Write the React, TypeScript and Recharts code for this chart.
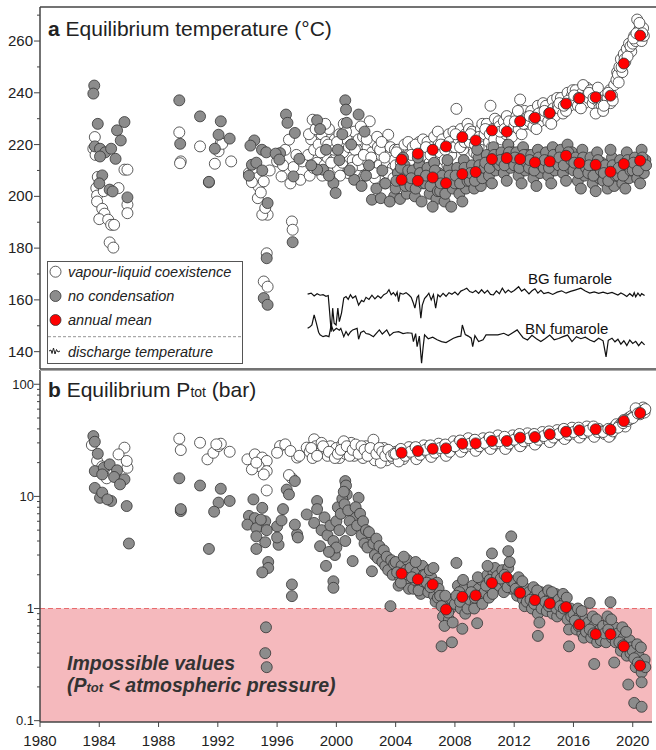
import React from 'react';
import { ComposedChart, Scatter, Line, XAxis, YAxis, ReferenceArea, ReferenceLine } from 'recharts';

const FONT = '"Liberation Sans", Arial, sans-serif';

// axis ticks
const yearTicks = [1980, 1984, 1988, 1992, 1996, 2000, 2004, 2008, 2012, 2016, 2020];
const tempTicks = [140, 150, 160, 170, 180, 190, 200, 210, 220, 230, 240, 250, 260, 270];
const tempLabels = [140, 160, 180, 200, 220, 240, 260];
const pressTicks = [0.1, 0.2, 0.3, 0.4, 0.5, 0.6, 0.7, 0.8, 0.9, 1, 2, 3, 4, 5, 6, 7, 8, 9, 10, 20, 30, 40, 50, 60, 70, 80, 90, 100];
const pressLabels = [0.1, 1, 10, 100];

// annual means
const meanYears = [2004.4, 2005.5, 2006.5, 2007.4, 2008.5, 2009.4, 2010.5, 2011.5, 2012.4, 2013.4, 2014.4, 2015.5, 2016.4, 2017.5, 2018.5, 2019.4, 2020.5];
const meanTempVL = [214.2, 216.5, 218, 219.3, 222.9, 221.6, 225.5, 225, 229, 230.4, 232.2, 235.8, 237.9, 238.3, 238.9, 251.3, 262.1];
const meanTempNC = [206.4, 206, 207.3, 205.1, 208.6, 209.4, 214.4, 214.8, 214.4, 213.1, 213.5, 215.7, 212.9, 212.2, 209.5, 212.5, 213.8];
const meanPressVL = [24.5, 25.4, 26.6, 26.8, 29.5, 29.7, 31.2, 31.2, 33.4, 33.8, 35.8, 37.7, 38.8, 39.7, 39.3, 47, 55.4];
const meanPressNC = [2.05, 1.82, 1.64, 0.98, 1.27, 1.31, 1.69, 1.9, 1.38, 1.19, 1.11, 1.03, 0.72, 0.59, 0.59, 0.46, 0.31];

// equilibrium temperature, vapour-liquid coexistence [year, °C]
const tempVL: [number, number][] = [
  [1983.7,222.9],[1983.6,218.4],[1983.75,216],[1983.9,207.5],[1983.8,203.2],[1983.85,200.3],[1983.85,198],[1984.2,195.2],[1984.35,193.3],[1984.0,191.2],[1984.6,191],[1984.8,189],[1985.0,189],[1984.7,182.2],[1984.95,180.2],[1984.3,202],[1985.3,203.2],[1985.7,210.3],[1985.9,210.3],[1985.9,196.8],[1985.9,193.5],
  [1989.4,224.7],[1989.5,213.5],[1989.45,212.8],[1990.8,219.3],[1991.4,205.4],[1991.8,212.6],[1992.05,217.4],[1992.2,220.6],[1992.3,220.3],[1992.9,213.5],
  [1994.1,209],[1994.6,207.7],[1994.75,203.8],[1995.1,205.8],[1994.7,199.3],[1995.36,192.9],[1995.0,192.9],[1995.3,178],[1995.1,167.1],[1995.36,165.1],[1997.0,190.3],[1997.05,187.1],[1996.0,213.5],[1996.55,218],[1996.8,221.9],[1997.1,211.3],[1997.57,206.4],[1997.7,213.5],[1996.3,207.7],[1994.4,211],[1994.9,201.5],[1995.2,195.5],[1994.3,205.5],[1996.4,212],[1997.3,216],[1996.9,205],[1995.5,210],
  [1998.1,216],[1998.3,222],[1998.4,229.6],[1998.5,218],[1998.7,213],[1998.8,220],[1998.9,210],[1998.2,208],
  [1999.0,224],[1999.1,217],[1999.2,212],[1999.3,221],[1999.4,215],[1999.5,226],[1999.6,209],[1999.7,219],[1999.8,214],[1999.9,222],
  [2000.0,216],[2000.1,211],[2000.2,224],[2000.3,219],[2000.4,213],[2000.5,228],[2000.6,217],[2000.7,222],[2000.8,209],[2000.9,215],
  [2001.0,220],[2001.1,214],[2001.2,225],[2001.3,210],[2001.4,218],[2001.5,222],[2001.6,212],[2001.7,216],[2001.8,223],[2001.9,208],
  [2002.0,214],[2002.1,219],[2002.25,229],[2002.3,211],[2002.4,217],[2002.5,221],[2002.6,207],[2002.7,215],[2002.8,219],[2002.9,212],
  [2003.0,216],[2003.1,210],[2003.2,220],[2003.3,205],[2003.5,223.8],[2003.4,213],[2003.6,208],[2003.7,217],[2003.8,211],[2003.9,214],
  [1998.15,224],[1998.45,211],[1998.6,226],[1998.95,217],[1999.05,208],[1999.25,228],[1999.45,220],[1999.65,213],[1999.85,218],[2000.05,221],[2000.25,208],[2000.45,217],[2000.65,225],[2000.85,219],[2001.05,211],
  [2001.25,218],[2001.45,214],[2001.65,227],[2001.85,216],[2002.05,222],[2002.35,215],[2002.55,209],[2002.75,223],[2002.95,218],[2003.05,221],[2003.25,215],[2003.45,209],[2003.65,219],[2003.85,207],[2003.95,218],
  [2004.0,212],[2004.15,218],[2004.3,209],[2004.45,215],[2004.6,220],[2004.75,211],[2004.9,216],[2004.2,206],[2004.05,217],[2004.35,213],[2004.65,208],[2004.85,221],
  [2005.0,213],[2005.15,219],[2005.3,210],[2005.45,217],[2005.6,221],[2005.75,214],[2005.9,218],[2005.5,211],[2005.05,216],[2005.35,220],[2005.65,212],[2005.85,222],
  [2006.0,216],[2006.15,221],[2006.3,213],[2006.45,219],[2006.6,223],[2006.75,215],[2006.9,220],[2006.5,212],[2006.05,219],[2006.35,216],[2006.65,218],[2006.85,225],
  [2007.0,217],[2007.15,222],[2007.3,214],[2007.45,220],[2007.6,224],[2007.75,216],[2007.9,225],[2007.5,212],[2007.05,220],[2007.35,218],[2007.65,221],[2007.85,219],
  [2008.0,219],[2008.1,233.8],[2008.25,222],[2008.4,226],[2008.55,218],[2008.7,224],[2008.85,228],[2008.5,220],[2008.05,224],[2008.35,219],[2008.65,221],[2008.95,226],
  [2009.0,221],[2009.15,225],[2009.3,217],[2009.45,223],[2009.6,219],[2009.75,226],[2009.9,222],[2009.5,216],[2009.05,224],[2009.35,220],[2009.65,223],[2009.85,228],
  [2010.0,224],[2010.15,228],[2010.3,221],[2010.4,235],[2010.55,226],[2010.7,230],[2010.85,223],[2010.5,219],[2010.05,226],[2010.35,224],[2010.65,222],[2010.95,229],
  [2011.0,227],[2011.15,222],[2011.3,229],[2011.45,224],[2011.6,220],[2011.75,228],[2011.9,226],[2011.5,231],[2011.05,225],[2011.35,226],[2011.65,229],[2011.85,223],
  [2012.0,227],[2012.15,231],[2012.3,226],[2012.4,237.4],[2012.55,230],[2012.7,233],[2012.85,228],[2012.5,224],[2012.05,229],[2012.25,233],[2012.65,228],[2012.95,231],
  [2013.0,229],[2013.15,233],[2013.3,227],[2013.45,231],[2013.6,235],[2013.75,229],[2013.9,233],[2013.5,226],[2013.05,231],[2013.35,230],[2013.65,232],[2013.95,236],
  [2014.0,231],[2014.15,235],[2014.3,229],[2014.45,233],[2014.6,237],[2014.75,231],[2014.9,238],[2014.5,228],[2014.05,233],[2014.35,232],[2014.65,234],[2014.95,235],
  [2015.0,234],[2015.15,238],[2015.3,232],[2015.45,236],[2015.6,240],[2015.75,235],[2015.9,239],[2015.5,233],[2015.05,236],[2015.35,235],[2015.65,237],[2015.95,241],
  [2016.0,237],[2016.15,241],[2016.3,235],[2016.45,239],[2016.6,240],[2016.75,236],[2016.9,242],[2016.5,234],[2016.05,239],[2016.35,238],[2016.65,243],[2016.95,239],
  [2017.0,238],[2017.15,241],[2017.3,236],[2017.45,240],[2017.6,237],[2017.75,234],[2017.9,235],[2017.5,232],[2017.05,240],[2017.35,238],[2017.65,242],[2017.95,237],
  [2018.0,233],[2018.15,236],[2018.3,238],[2018.45,241],[2018.6,239],[2018.75,243],[2018.9,245],[2018.5,236],[2018.05,235],[2018.35,240],[2018.65,237],[2018.95,248],
  [2019.0,247],[2019.1,250],[2019.2,253],[2019.3,248],[2019.4,255],[2019.5,252],[2019.6,257],[2019.75,259],[2019.9,256],[2019.05,244],[2019.25,250],[2019.45,253],[2019.65,254],[2019.85,258],
  [2020.0,259],[2020.1,262],[2020.2,260],[2020.3,268.3],[2020.4,264],[2020.5,265],[2020.6,260],[2020.7,265],[2020.75,262],[2020.05,261],[2020.25,263],[2020.45,267],[2020.65,263],
];

// equilibrium temperature, no condensation [year, °C]
const tempNC: [number, number][] = [
  [1983.66,242.8],[1983.6,239.7],[1983.9,228],[1983.7,219.3],[1984.05,218.4],[1984.4,217],[1984.8,218.4],[1985.1,214.5],[1985.2,225.5],[1985.45,221.6],[1985.7,228.7],[1984.2,208.1],[1984.7,202.6],[1984.9,201.9],[1985.9,199.6],[1984.05,215.4],[1984.0,205],
  [1989.4,237.1],[1989.46,220.3],[1990.8,230.9],[1991.4,205.6],[1992.2,229],[1992.05,223.8],[1991.8,218.4],[1992.8,222.3],
  [1994.46,221.6],[1994.98,218],[1995.27,217],[1994.2,219.6],[1994.3,212.2],[1995.36,197.4],[1995.3,176.1],[1995.1,160.7],[1995.36,158.1],[1997.05,182.3],[1996.2,216.7],[1995.9,216.5],[1996.6,231.6],[1996.7,228.4],[1997.2,224.5],[1997.5,214.5],[1997.1,207.7],[1996.15,214.2],[1994.1,208],[1994.6,213],[1995.0,210],
  [1998.7,229.4],[2000.6,237.1],[2000.65,233.5],[2001.5,231.6],[2000.7,228.4],[1999.1,210.3],[1999.8,205.1],[1999.95,201.3],[1998.7,210.3],[2001.2,206.4],[2002.4,198.7],[2003.0,199.3],[2003.9,200],[2004.8,201.3],[1998.3,212],[1999.5,208],[2000.2,214],[2000.9,210],[2001.7,204],[2002.0,208],[2002.7,203],[2003.3,205],[2003.6,198],[2002.2,212],[1998.9,226],[2000.4,224],[2001.0,220],[2001.9,225],[2000.1,218],[1999.3,218],[2003.1,210],
  [2004.0,203],[2004.15,209],[2004.3,199],[2004.45,206],[2004.6,212],[2004.75,201],[2004.9,207],[2004.5,215],[2004.05,206],[2004.35,211],[2004.65,204],[2004.85,210],
  [2005.0,204],[2005.15,210],[2005.3,200],[2005.45,206],[2005.6,212],[2005.75,198],[2005.9,208],[2005.5,215],[2005.05,207],[2005.35,203],[2005.65,209],[2005.85,205],
  [2006.0,205],[2006.15,211],[2006.3,201],[2006.45,207],[2006.6,213],[2006.75,199],[2006.9,209],[2006.5,196],[2006.05,208],[2006.35,204],[2006.65,210],[2006.85,202],
  [2007.0,202],[2007.15,208],[2007.3,198],[2007.45,205],[2007.6,211],[2007.75,196],[2007.9,207],[2007.5,214],[2007.05,205],[2007.35,201],[2007.65,208],[2007.85,203],
  [2008.0,205],[2008.15,211],[2008.3,201],[2008.45,208],[2008.6,214],[2008.75,203],[2008.9,210],[2008.5,198],[2008.05,208],[2008.35,205],[2008.65,211],[2008.85,206],
  [2009.0,206],[2009.15,212],[2009.3,203],[2009.45,209],[2009.6,215],[2009.75,204],[2009.9,211],[2009.5,218],[2009.05,209],[2009.35,206],[2009.65,212],[2009.85,207],
  [2010.0,211],[2010.15,216],[2010.3,208],[2010.45,214],[2010.6,219],[2010.75,210],[2010.9,216],[2010.5,205],[2010.05,213],[2010.35,211],[2010.65,216],[2010.85,213],
  [2011.0,212],[2011.15,217],[2011.3,209],[2011.45,215],[2011.6,220],[2011.75,211],[2011.9,217],[2011.5,206],[2011.05,214],[2011.35,212],[2011.65,217],[2011.85,214],
  [2012.0,212],[2012.15,217],[2012.3,208],[2012.45,214],[2012.6,219],[2012.75,210],[2012.9,216],[2012.5,205],[2012.05,215],[2012.35,211],[2012.65,216],[2012.85,213],
  [2013.0,211],[2013.15,216],[2013.3,207],[2013.45,213],[2013.6,218],[2013.75,209],[2013.9,215],[2013.5,204],[2013.05,214],[2013.35,210],[2013.65,215],[2013.85,212],
  [2014.0,211],[2014.15,217],[2014.3,208],[2014.45,214],[2014.6,219],[2014.75,210],[2014.9,216],[2014.5,205],[2014.05,214],[2014.35,211],[2014.65,216],[2014.85,213],
  [2015.0,212],[2015.15,218],[2015.3,209],[2015.45,215],[2015.6,220],[2015.75,211],[2015.9,217],[2015.5,206],[2015.05,215],[2015.35,212],[2015.65,217],[2015.85,214],
  [2016.0,210],[2016.15,215],[2016.3,206],[2016.45,212],[2016.6,218],[2016.75,208],[2016.9,214],[2016.5,203],[2016.05,213],[2016.35,209],[2016.65,215],[2016.85,211],
  [2017.0,209],[2017.15,215],[2017.3,205],[2017.45,212],[2017.6,217],[2017.75,207],[2017.9,213],[2017.5,202],[2017.05,212],[2017.35,208],[2017.65,214],[2017.85,210],
  [2018.0,206],[2018.15,212],[2018.3,203],[2018.45,209],[2018.6,215],[2018.75,204],[2018.9,211],[2018.5,218],[2018.05,209],[2018.35,206],[2018.65,212],[2018.85,208],
  [2019.0,208],[2019.15,214],[2019.3,205],[2019.45,211],[2019.6,217],[2019.75,207],[2019.9,213],[2019.5,203],[2019.05,211],[2019.35,208],[2019.65,214],[2019.85,210],
  [2020.0,210],[2020.15,215],[2020.3,207],[2020.45,213],[2020.6,218],[2020.75,209],[2020.85,214],[2020.5,205],[2020.05,213],[2020.35,210],[2020.65,215],[2020.9,212],
];

// equilibrium Ptot, vapour-liquid coexistence [year, bar]
const pressVL: [number, number][] = [
  [1983.5,28.7],[1983.85,20.7],[1984.5,14.5],[1985.7,27.2],[1985.3,23.7],[1985.9,18],[1985.85,20.7],[1984.2,18.5],[1985.0,16],
  [1989.4,32.7],[1989.5,25.9],[1990.8,30.1],[1991.3,21.4],[1991.7,24.5],[1992.05,28.1],[1992.2,29.5],[1992.8,25],[1991.9,29.1],
  [1994.0,21.4],[1994.5,23.7],[1995.0,22.2],[1995.3,20.7],[1994.75,18.6],[1995.3,16.8],[1994.3,17.4],[1995.1,15.7],[1995.3,11.3],[1996.2,28.1],[1996.55,29.1],[1996.0,24.5],[1997.35,22.2],[1997.0,14.5],[1998.5,32.3],[1998.0,27.2],[1996.9,25.4],[1997.5,23],[1996.8,15.5],[1994.6,20],
  [1998.2,25],[1998.4,22],[1998.6,28],[1998.8,24],[1999.0,30],[1999.2,26],[1999.4,23],[1999.6,28],[1999.8,25],[2000.0,27],[2000.2,22],[2000.4,29],[2000.6,24],[2000.8,26],[2001.0,30],[2001.2,23],[2001.4,27],[2001.6,25],[2001.8,22],[2002.0,28],[2002.2,24],[2002.4,26],[2002.6,21],[2002.8,25],[2003.0,23],[2003.2,27],[2003.4,21],[2003.6,24],[2003.8,22],[2004.0,25],[2002.5,32],[2000.5,31],[2003.0,20],
  [1998.3,27],[1998.7,23],[1999.1,28],[1999.5,25],[1999.9,22],[2000.1,24],[2000.3,26],[2000.7,28],[2000.9,23],[2001.1,26],[2001.3,29],[2001.5,24],[2001.7,28],[2001.9,26],[2002.1,23],[2002.3,27],[2002.7,24],[2002.9,27],[2003.1,25],[2003.3,23],[2003.5,26],[2003.7,23],[2003.9,24],
  [2004.1,23],[2004.3,26],[2004.5,21.5],[2004.7,25],[2004.9,27.5],[2004.2,20.5],[2004.0,24],[2004.35,26.5],[2004.65,23],
  [2005.1,24],[2005.3,27],[2005.5,22.5],[2005.7,26],[2005.9,28.5],[2005.4,21.5],[2005.0,25],[2005.35,27.5],[2005.65,23.5],
  [2006.1,25],[2006.3,28],[2006.5,23.5],[2006.7,27],[2006.9,29.5],[2006.4,22.5],[2006.0,26],[2006.35,28.5],[2006.65,24.5],
  [2007.1,25.5],[2007.3,28.5],[2007.5,24],[2007.7,27.5],[2007.9,31],[2007.4,23],[2007.0,27],[2007.35,29],[2007.65,25],
  [2008.1,27.5],[2008.3,31],[2008.5,26],[2008.7,30],[2008.9,33],[2008.4,25],[2008.0,28],[2008.35,31.5],[2008.65,27.5],
  [2009.1,28],[2009.3,31.5],[2009.5,26.5],[2009.7,30.5],[2009.9,33],[2009.4,25.5],[2009.0,29.5],[2009.35,32],[2009.65,28],
  [2010.1,29],[2010.3,33],[2010.5,27.5],[2010.7,32],[2010.9,35],[2010.4,26.5],[2010.0,30],[2010.35,33.5],[2010.65,29.5],
  [2011.1,29.5],[2011.3,33],[2011.5,27.5],[2011.7,32],[2011.9,35],[2011.4,26.5],[2011.0,31],[2011.35,34],[2011.65,29.5],
  [2012.1,31],[2012.3,35],[2012.5,29],[2012.7,34],[2012.9,36.5],[2012.4,28],[2012.0,32],[2012.35,36],[2012.65,31],
  [2013.1,31.5],[2013.3,35.5],[2013.5,30],[2013.7,34.5],[2013.9,37.5],[2013.4,29],[2013.0,33],[2013.35,36],[2013.65,32],
  [2014.1,33],[2014.3,37],[2014.5,31.5],[2014.7,36],[2014.9,39],[2014.4,30.5],[2014.0,34.5],[2014.35,38],[2014.65,33.5],
  [2015.1,35],[2015.3,39],[2015.5,33.5],[2015.7,38],[2015.9,41],[2015.4,32.5],[2015.0,36],[2015.35,40],[2015.65,35.5],
  [2016.1,36],[2016.3,40],[2016.5,34.5],[2016.7,39],[2016.9,42],[2016.4,33.5],[2016.0,37.5],[2016.35,41],[2016.65,36.5],
  [2017.1,37],[2017.3,41],[2017.5,35.5],[2017.7,40],[2017.9,38],[2017.4,34],[2017.0,38.5],[2017.35,42],[2017.65,37.5],
  [2018.1,36],[2018.3,39],[2018.5,35],[2018.7,41],[2018.9,44],[2018.4,34],[2018.0,37.5],[2018.35,40],[2018.65,38],
  [2019.1,43],[2019.3,46],[2019.5,42],[2019.7,50],[2019.9,52],[2019.4,48],[2019.0,41],[2019.35,45],[2019.65,47],[2019.85,49],
  [2020.1,52],[2020.3,58],[2020.5,54],[2020.7,62],[2020.8,56],[2020.2,61],[2020.0,50],[2020.35,55],[2020.65,58],[2020.85,60],
];

// equilibrium Ptot, no condensation [year, bar]
const pressNC: [number, number][] = [
  [1983.6,34.5],[1983.7,30.7],[1983.9,24],[1983.7,16.8],[1984.3,18],[1984.7,19.3],[1984.2,15.7],[1985.2,17.1],[1985.0,14.9],[1985.7,14.2],[1985.4,12.8],[1983.7,11.9],[1984.05,9.7],[1984.2,10.8],[1984.8,9.1],[1984.55,9.4],[1985.85,8.2],[1986.0,3.8],
  [1989.4,14.5],[1989.5,7.4],[1989.5,7.7],[1990.8,12.5],[1991.4,3.4],[1992.2,11.7],[1992.05,8.8],[1991.75,7.3],[1992.8,9.1],
  [1994.4,9.4],[1995.0,7.9],[1994.1,6.7],[1994.5,6.4],[1994.0,5.6],[1994.6,5.2],[1995.2,6.0],[1994.6,4.4],[1995.2,3.9],[1994.6,3.4],[1995.4,2.6],[1995.4,2.3],[1995.0,2.1],[1996.0,5.4],[1996.1,3.7],[1996.0,4.3],[1996.4,7.7],[1997.0,1.64],[1997.0,1.29],[1997.35,4.6],[1997.2,5.6],[1998.0,6.9],[1997.4,4.3],[1998.5,5.8],[1998.7,9.1],[1998.7,7.7],[1997.2,13.7],[1996.65,11.5],[1996.8,10.4],[1995.25,0.68],[1995.2,0.4],[1995.3,0.3],[1994.9,6.2],[1995.3,5.0],[1996.3,6.1],
  [1998.9,3.6],[1999.3,2.4],[1999.8,1.75],[1999.8,1.53],[1999.9,3.0],[2000.6,13.7],[2000.65,12.5],[2000.7,10.4],[2001.5,9.7],[2001.2,6.4],[2001.1,2.65],[2002.3,4.3],[2002.4,2.15],[2003.0,3.25],[2003.65,1.05],
  [1999.0,5],[1999.2,6.5],[1999.4,4.5],[1999.6,5.5],[1999.8,4],[2000.0,6],[2000.1,8],[2000.2,5],[2000.3,7],[2000.4,9.5],[2000.5,11],[2000.55,8.5],[2000.8,7.5],[2000.9,6],[2001.0,5],[2001.3,8],[2001.4,5.5],[2001.6,7],[2001.7,4.5],[2001.8,6],[2001.9,3.8],[2002.0,5],[2002.1,3.5],[2002.2,4.8],[2002.5,3.8],[2002.6,3],[2002.7,4.2],[2002.8,2.8],[2002.9,3.6],[2003.1,2.6],[2003.2,3.3],[2003.3,2.4],[2003.4,2.9],[2003.5,2.2],[2003.7,2.7],[2003.8,2.0],[2003.9,2.5],[2000.6,4],[2000.0,3.5],[1999.5,3.2],
  [2004.0,2.6],[2004.2,1.6],[2004.4,2.4],[2004.6,1.8],[2004.8,2.7],[2004.3,1.9],[2004.7,2.2],[2004.9,1.5],[2004.1,2.1],[2004.35,1.7],[2004.55,2.9],[2004.85,2.0],
  [2005.0,2.3],[2005.2,1.5],[2005.4,2.1],[2005.6,1.6],[2005.8,2.4],[2005.3,1.8],[2005.7,1.35],[2005.9,2.0],[2005.1,1.9],[2005.35,2.6],[2005.55,1.45],[2005.85,1.75],
  [2006.0,2.0],[2006.2,1.4],[2006.4,1.9],[2006.6,1.3],[2006.8,1.7],[2006.3,2.2],[2006.7,1.15],[2006.9,1.5],[2006.1,1.7],[2006.35,1.55],[2006.55,2.3],[2006.85,1.25],
  [2007.0,1.3],[2007.2,0.85],[2007.4,1.1],[2007.6,0.8],[2007.8,1.2],[2007.3,0.7],[2007.7,1.0],[2007.1,0.46],[2007.8,0.5],[2007.1,1.05],[2007.35,1.3],[2007.55,0.92],[2007.85,0.75],
  [2008.0,1.1],[2008.2,1.6],[2008.4,1.0],[2008.6,1.5],[2008.8,1.2],[2008.3,1.4],[2008.7,0.9],[2008.5,0.66],[2008.1,2.55],[2008.1,1.3],[2008.35,1.15],[2008.55,1.8],[2008.85,1.0],
  [2009.0,1.2],[2009.2,1.6],[2009.4,1.1],[2009.6,1.5],[2009.8,1.8],[2009.3,1.0],[2009.7,1.3],[2009.5,0.74],[2009.1,1.4],[2009.35,1.25],[2009.55,1.9],[2009.85,1.1],
  [2010.0,1.4],[2010.2,2.0],[2010.4,1.5],[2010.6,2.1],[2010.8,1.7],[2010.3,1.25],[2010.7,2.3],[2010.2,2.4],[2010.5,3.1],[2010.1,1.6],[2010.35,1.8],[2010.55,1.35],[2010.85,1.95],
  [2011.0,1.6],[2011.2,2.2],[2011.4,1.7],[2011.6,2.3],[2011.8,1.5],[2011.3,1.4],[2011.7,2.6],[2011.6,3.25],[2011.8,4.4],[2011.1,1.85],[2011.35,2.0],[2011.55,1.55],[2011.85,1.75],
  [2012.0,1.7],[2012.2,1.3],[2012.4,1.6],[2012.6,1.2],[2012.8,1.5],[2012.3,1.9],[2012.7,1.05],[2012.9,1.3],[2012.1,1.5],[2012.35,1.4],[2012.55,1.75],[2012.85,1.15],
  [2013.0,1.4],[2013.2,1.0],[2013.4,1.3],[2013.6,0.9],[2013.8,1.4],[2013.3,1.55],[2013.7,0.75],[2013.6,0.57],[2013.1,1.2],[2013.35,1.1],[2013.55,1.45],[2013.85,1.0],
  [2014.0,1.3],[2014.2,0.95],[2014.4,1.25],[2014.6,0.9],[2014.8,1.35],[2014.3,1.45],[2014.7,1.05],[2014.9,0.85],[2014.1,1.15],[2014.35,1.05],[2014.55,1.4],[2014.85,1.0],
  [2015.0,1.2],[2015.2,0.9],[2015.4,1.15],[2015.6,0.8],[2015.8,1.0],[2015.3,1.35],[2015.7,0.65],[2015.7,0.46],[2015.1,1.05],[2015.35,1.0],[2015.55,1.25],[2015.85,0.85],
  [2016.0,0.9],[2016.2,0.65],[2016.4,0.85],[2016.6,0.6],[2016.8,0.8],[2016.3,1.0],[2016.7,0.55],[2016.9,0.7],[2016.1,0.78],[2016.35,0.7],[2016.55,0.95],[2016.85,0.62],
  [2017.0,0.75],[2017.2,0.55],[2017.4,0.7],[2017.6,0.5],[2017.8,0.65],[2017.1,1.12],[2017.4,0.32],[2017.3,0.85],[2017.1,0.65],[2017.35,0.6],[2017.55,0.8],[2017.85,0.52],
  [2018.0,0.7],[2018.2,0.5],[2018.4,0.75],[2018.6,0.55],[2018.8,0.68],[2018.5,1.14],[2018.75,0.33],[2018.3,0.85],[2018.1,0.6],[2018.35,0.65],[2018.55,0.8],[2018.85,0.5],
  [2019.0,0.6],[2019.2,0.42],[2019.4,0.55],[2019.6,0.38],[2019.8,0.52],[2019.3,0.68],[2019.7,0.21],[2019.9,0.45],[2019.1,0.5],[2019.35,0.47],[2019.55,0.62],[2019.85,0.4],
  [2020.0,0.42],[2020.2,0.3],[2020.4,0.38],[2020.6,0.27],[2020.8,0.35],[2020.1,0.144],[2020.6,0.133],[2020.6,0.22],[2020.3,0.48],[2020.1,0.36],[2020.35,0.33],[2020.55,0.45],[2020.85,0.3],
];

// discharge temperature traces, plotted in panel a coordinates [year, value]
const bgDischarge: [number, number][] = [
  [1998.06,162.2],[1998.3,162.6],[1998.5,161.5],[1998.7,162.4],[1998.9,161.8],[1999.1,162],[1999.3,161.4],[1999.45,161.7],[1999.55,155],[1999.65,147.7],[1999.75,156.8],[1999.85,151],[1999.98,150.3],[2000.1,156.8],[2000.2,151.6],[2000.35,155],[2000.5,160.7],[2000.65,161.3],[2000.8,160.2],[2000.95,162],
  [2001.1,160.7],[2001.3,161.5],[2001.5,158],[2001.7,159.8],[2001.85,159.3],[2002.0,161],[2002.2,160.2],[2002.4,161.8],[2002.6,160.4],[2002.8,161.6],[2003.0,160.7],[2003.2,162],[2003.4,162.6],[2003.55,163.9],[2003.7,162],[2003.85,162.8],[2004.0,161.6],[2004.1,163],[2004.2,159.3],[2004.3,162.6],
  [2004.5,162.2],[2004.7,162.8],[2004.9,161.9],[2005.05,161],[2005.2,158.7],[2005.3,156.8],[2005.45,161],[2005.55,161.7],[2005.7,152.9],[2005.8,158],[2005.95,160.5],[2006.1,161.5],[2006.24,162.6],[2006.4,160],[2006.55,162],[2006.7,156.8],[2006.85,162],[2007.0,161.2],[2007.2,162.5],[2007.4,161.4],
  [2007.6,162.8],[2007.8,162.2],[2008.0,163],[2008.2,161.9],[2008.4,163.4],[2008.6,163.9],[2008.8,164.5],[2009.0,163.2],[2009.2,162.8],[2009.4,163.6],[2009.6,162.5],[2009.8,163.9],[2010.0,162.6],[2010.2,163.7],[2010.4,162.1],[2010.6,161.9],[2010.8,163.5],[2011.0,162.4],[2011.2,164.5],[2011.4,162.7],
  [2011.6,163.8],[2011.8,162.9],[2012.0,163.6],[2012.3,165.1],[2012.5,163.4],[2012.7,164.2],[2013.0,162.3],[2013.2,163.5],[2013.4,164.3],[2013.6,162.6],[2013.8,163.7],[2014.0,162.4],[2014.3,162.9],[2014.6,162.1],[2014.9,163],[2015.2,163.5],[2015.5,162.6],[2015.8,163.3],[2016.1,163.8],[2016.5,164.5],
  [2016.8,163.4],[2017.1,162.6],[2017.4,163.1],[2017.7,162.5],[2018.0,163],[2018.3,162.4],[2018.6,162.9],[2019.0,161.9],[2019.2,162.7],[2019.4,162.1],[2019.6,161.3],[2019.8,162.4],[2020.0,161.4],[2020.1,162.8],[2020.2,161.2],[2020.35,162.6],[2020.5,161.5],[2020.6,162.4],[2020.8,161.7],
];

const bnDischarge: [number, number][] = [
  [1998.06,149],[1998.2,149.5],[1998.35,150.3],[1998.5,154.2],[1998.65,151],[1998.8,147.5],[1998.9,146.5],[1999.1,145.8],[1999.3,146.2],[1999.5,145.8],[1999.65,150.3],[1999.8,148],[2000.0,149],[2000.2,148.3],[2000.3,149],[2000.5,145.8],[2000.65,147.8],[2000.8,146.3],[2000.95,147.6],
  [2001.1,148.4],[2001.4,149],[2001.5,144.8],[2001.65,147.4],[2001.85,148],[2002.0,147],[2002.2,146.8],[2002.5,145.8],[2002.9,148.4],[2003.1,146.8],[2003.4,148.4],[2003.6,146.2],[2003.85,147.4],[2004.2,147.7],[2004.5,147],[2004.8,147.3],[2005.1,147.1],[2005.2,143.9],[2005.35,147],
  [2005.45,141.9],[2005.6,146],[2005.75,135.5],[2005.85,141.5],[2005.95,146.5],[2006.2,145],[2006.5,145.6],[2006.8,144.6],[2007.1,143.9],[2007.4,143.5],[2007.7,144.5],[2007.9,145.2],[2008.2,145.8],[2008.4,146],[2008.5,150.3],[2008.7,146.6],[2008.9,146],[2009.1,145.2],[2009.2,141.9],
  [2009.35,146.2],[2009.6,143.9],[2009.9,144.6],[2010.1,146.5],[2010.5,146.5],[2010.9,146.5],[2011.3,147.1],[2011.6,146.2],[2011.9,147.3],[2012.2,148.4],[2012.4,146.9],[2012.6,145.4],[2012.9,144.5],[2013.2,146.3],[2013.5,145],[2013.8,143.9],[2014.1,145.1],[2014.4,146.4],[2014.7,144.6],
  [2015.0,145.1],[2015.3,145.8],[2015.6,146.4],[2015.9,143.9],[2016.2,145.8],[2016.5,145],[2016.8,145.6],[2017.1,144.5],[2017.4,143.8],[2017.7,145.2],[2018.0,144.2],[2018.2,138],[2018.35,144.4],[2018.6,145.2],[2018.8,143.8],[2019.0,144.8],[2019.2,142.9],[2019.4,144.2],
  [2019.6,142.4],[2019.8,144.5],[2020.0,143.2],[2020.2,144],[2020.4,142.3],[2020.6,143.8],[2020.8,142.6],
];

const X_DOMAIN: [number, number] = [1980, 2021.3];
const AX = 40; // y axis position
const B_BOTTOM = 352; // bottom of panel b plot, in its own svg

const toPts = (arr: [number, number][]) => arr.map(([x, y]) => ({ x, y }));
const toMeans = (ys: number[]) => meanYears.map((x, i) => ({ x, y: ys[i] }));

const dot = (fill: string) => (p: any) => (
  <circle cx={p.cx} cy={p.cy} r={5.5} fill={fill} stroke="#333" strokeWidth={0.8} />
);

function TempTick(props: any) {
  const { y, payload } = props;
  const major = tempLabels.includes(payload.value);
  return (
    <g>
      <line x1={AX - (major ? 6 : 3)} x2={AX} y1={y} y2={y} stroke="#444" strokeWidth={1} />
      {major && (
        <text x={AX - 7} y={y} dy={5} textAnchor="end" fontSize={15} fill="#222" fontFamily={FONT}>
          {payload.value}
        </text>
      )}
    </g>
  );
}

function PressTick(props: any) {
  const { y, payload } = props;
  const major = pressLabels.includes(payload.value);
  return (
    <g>
      <line x1={AX - (major ? 6 : 3)} x2={AX} y1={y} y2={y} stroke="#444" strokeWidth={1} />
      {major && (
        <text x={AX - 6} y={y} dy={4.5} textAnchor="end" fontSize={13} fill="#222" fontFamily={FONT}>
          {payload.value}
        </text>
      )}
    </g>
  );
}

function YearTick(props: any) {
  const { x, payload } = props;
  return (
    <g>
      <line x1={x} x2={x} y1={B_BOTTOM} y2={B_BOTTOM + 5} stroke="#444" strokeWidth={1} />
      <text x={x} y={B_BOTTOM + 24} textAnchor="middle" fontSize={15} fill="#222" fontFamily={FONT}>
        {payload.value}
      </text>
    </g>
  );
}

export default function App() {
  return (
    <div style={{ position: 'relative', width: 656, height: 750, background: '#fff', fontFamily: FONT }}>
      <style>{'body{margin:0}'}</style>

      {/* panel a */}
      <div style={{ position: 'absolute', left: 0, top: 0 }}>
        <ComposedChart width={656} height={370} margin={{ top: 7, right: 4, bottom: 1, left: 0 }}>
          <XAxis dataKey="x" type="number" domain={X_DOMAIN} allowDataOverflow hide />
          <YAxis
            type="number"
            domain={[133.3, 273.15]}
            allowDataOverflow
            ticks={tempTicks}
            interval={0}
            width={40}
            tickLine={false}
            axisLine={{ stroke: '#444', strokeWidth: 1.5 }}
            tick={(p: any) => <TempTick {...p} />}
          />
          <Line data={toPts(bgDischarge)} dataKey="y" type="linear" stroke="#111" strokeWidth={1.2} dot={false} isAnimationActive={false} />
          <Line data={toPts(bnDischarge)} dataKey="y" type="linear" stroke="#111" strokeWidth={1.2} dot={false} isAnimationActive={false} />
          <Scatter data={toPts(tempVL)} dataKey="y" shape={dot('#ffffff')} isAnimationActive={false} />
          <Scatter data={toPts(tempNC)} dataKey="y" shape={dot('#8c8c8c')} isAnimationActive={false} />
          <Scatter data={toMeans(meanTempVL)} dataKey="y" shape={dot('#ff0000')} isAnimationActive={false} />
          <Scatter data={toMeans(meanTempNC)} dataKey="y" shape={dot('#ff0000')} isAnimationActive={false} />
        </ComposedChart>
      </div>

      {/* panel b */}
      <div style={{ position: 'absolute', left: 0, top: 370 }}>
        <ComposedChart width={656} height={380} margin={{ top: 0, right: 4, bottom: 0, left: 0 }}>
          <XAxis
            dataKey="x"
            type="number"
            domain={X_DOMAIN}
            allowDataOverflow
            ticks={yearTicks}
            interval={0}
            height={28}
            tickLine={false}
            axisLine={{ stroke: '#444', strokeWidth: 1.5 }}
            tick={(p: any) => <YearTick {...p} />}
          />
          <YAxis
            type="number"
            scale="log"
            domain={[0.0973, 134]}
            allowDataOverflow
            ticks={pressTicks}
            interval={0}
            width={40}
            tickLine={false}
            axisLine={{ stroke: '#444', strokeWidth: 1.5 }}
            tick={(p: any) => <PressTick {...p} />}
          />
          <ReferenceArea x1={1980} x2={2021.3} y1={0.0973} y2={1} fill="#f5b9bd" fillOpacity={1} stroke="none" />
          <ReferenceLine y={1} stroke="#e86a6c" strokeDasharray="5 3" strokeWidth={1} />
          <Scatter data={toPts(pressVL)} dataKey="y" shape={dot('#ffffff')} isAnimationActive={false} />
          <Scatter data={toPts(pressNC)} dataKey="y" shape={dot('#8c8c8c')} isAnimationActive={false} />
          <Scatter data={toMeans(meanPressVL)} dataKey="y" shape={dot('#ff0000')} isAnimationActive={false} />
          <Scatter data={toMeans(meanPressNC)} dataKey="y" shape={dot('#ff0000')} isAnimationActive={false} />
        </ComposedChart>
      </div>

      {/* frame, titles, legend, annotations */}
      <svg width={656} height={750} style={{ position: 'absolute', left: 0, top: 0, pointerEvents: 'none' }} fontFamily={FONT}>
        <line x1={AX} x2={656} y1={7} y2={7} stroke="#444" strokeWidth={1.5} />
        <line x1={AX} x2={656} y1={369} y2={369} stroke="#444" strokeWidth={1.5} />
        <line x1={AX} x2={656} y1={370.5} y2={370.5} stroke="#aaa" strokeWidth={1} />

        <text x={48} y={36} fontSize={21} fill="#222">
          <tspan fontWeight="bold">a</tspan> Equilibrium temperature (°C)
        </text>
        <text x={48} y={397} fontSize={21} fill="#222">
          <tspan fontWeight="bold">b</tspan> Equilibrium P<tspan fontSize={14}>tot</tspan> (bar)
        </text>

        <text x={528} y={283.5} fontSize={15} fill="#111">BG fumarole</text>
        <text x={525} y={333.5} fontSize={15} fill="#111">BN fumarole</text>

        <text x={67} y={670} fontSize={19.5} fontWeight="bold" fontStyle="italic" fill="#333">Impossible values</text>
        <text x={67} y={692} fontSize={19.5} fontWeight="bold" fontStyle="italic" fill="#333">
          (P<tspan fontSize={13}>tot</tspan> &lt; atmospheric pressure)
        </text>

        {/* legend */}
        <rect x={47.5} y={261.5} width={195} height={102} fill="#fff" stroke="#555" strokeWidth={1} />
        <circle cx={55.5} cy={271.7} r={5.5} fill="#fff" stroke="#333" strokeWidth={0.8} />
        <circle cx={55.5} cy={296} r={5.5} fill="#8c8c8c" stroke="#333" strokeWidth={0.8} />
        <circle cx={55.5} cy={320} r={5.5} fill="#ff0000" stroke="#333" strokeWidth={0.8} />
        <text x={68} y={276.5} fontSize={14.5} fontStyle="italic" fill="#222">vapour-liquid coexistence</text>
        <text x={68} y={301} fontSize={14.5} fontStyle="italic" fill="#222">no condensation</text>
        <text x={68} y={325} fontSize={14.5} fontStyle="italic" fill="#222">annual mean</text>
        <line x1={48} x2={242} y1={336.7} y2={336.7} stroke="#777" strokeWidth={0.8} strokeDasharray="3 2" />
        <polyline points="49,351 51,350 52,353.5 53.5,348 55,354 56.5,349.5 58,352 60,351" fill="none" stroke="#222" strokeWidth={1} />
        <text x={68} y={356.5} fontSize={14.5} fontStyle="italic" fill="#222">discharge temperature</text>
      </svg>
    </div>
  );
}
